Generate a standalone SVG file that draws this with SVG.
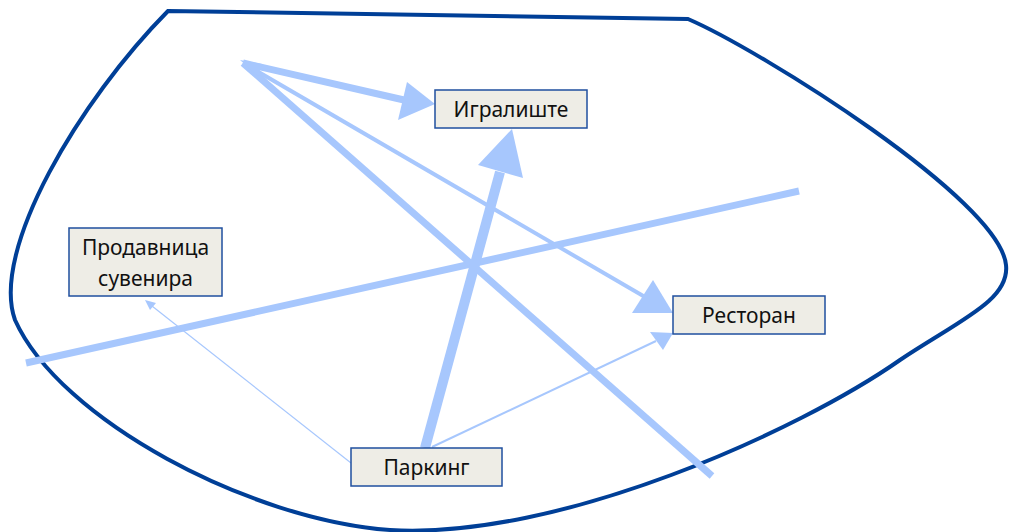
<svg xmlns="http://www.w3.org/2000/svg" width="1012" height="532" viewBox="0 0 1012 532">
<style>
.node rect{fill:#eeede6;stroke:#1f4f9f;stroke-width:1.5}
.node text{font-family:"Noto Sans","Open Sans",sans-serif;font-size:21px;fill:#111;text-anchor:middle}
.c{stroke:#a7c7fd;fill:none}
.h{fill:#a7c7fd;stroke:none}
</style>
<rect width="1012" height="532" fill="#fff"/>
<path d="M168,11 L688,19 C760,50 1000,200 1006,265 C1010,300 960,320 900,360 C800,430 560,540 390,530 C250,520 60,420 15,320 C-10,250 80,100 168,11 Z" fill="none" stroke="#003f97" stroke-width="4"/>
<g id="connectors">
<line class="c" x1="26" y1="363" x2="799" y2="191" stroke-width="7"/>
<line class="c" x1="243" y1="63" x2="712" y2="476" stroke-width="7"/>
<line class="c" x1="243" y1="63" x2="404" y2="100" stroke-width="7"/>
<polygon class="h" points="435,104 407,82 398,120"/>
<line class="c" x1="243" y1="63" x2="645" y2="297" stroke-width="4"/>
<polygon class="h" points="673,313 653,280 632,313"/>
<line class="c" x1="425" y1="448" x2="500" y2="172" stroke-width="10"/>
<polygon class="h" points="512,129 478,165 523,178"/>
<line class="c" x1="432" y1="447" x2="656" y2="341" stroke-width="2"/>
<polygon class="h" points="673,333 650,332 663,350"/>
<line class="c" x1="351" y1="463" x2="152" y2="306" stroke-width="1.2"/>
<polygon class="h" points="145,300 156,303 150,310"/>
<polygon class="h" points="240,60 262,64 258,76"/>
</g>
<g id="n-igraliste" class="node"><rect x="435" y="90" width="152" height="38"/><text x="511" y="116.5">Игралиште</text></g>
<g id="n-prodavnica" class="node"><rect x="69" y="228" width="153" height="68"/><text x="145.5" y="255">Продавница</text><text x="145.5" y="286">сувенира</text></g>
<g id="n-restoran" class="node"><rect x="673" y="296" width="152" height="38"/><text x="749" y="322.5">Ресторан</text></g>
<g id="n-parking" class="node"><rect x="351" y="448" width="151" height="38"/><text x="426.5" y="474.5">Паркинг</text></g>
</svg>
